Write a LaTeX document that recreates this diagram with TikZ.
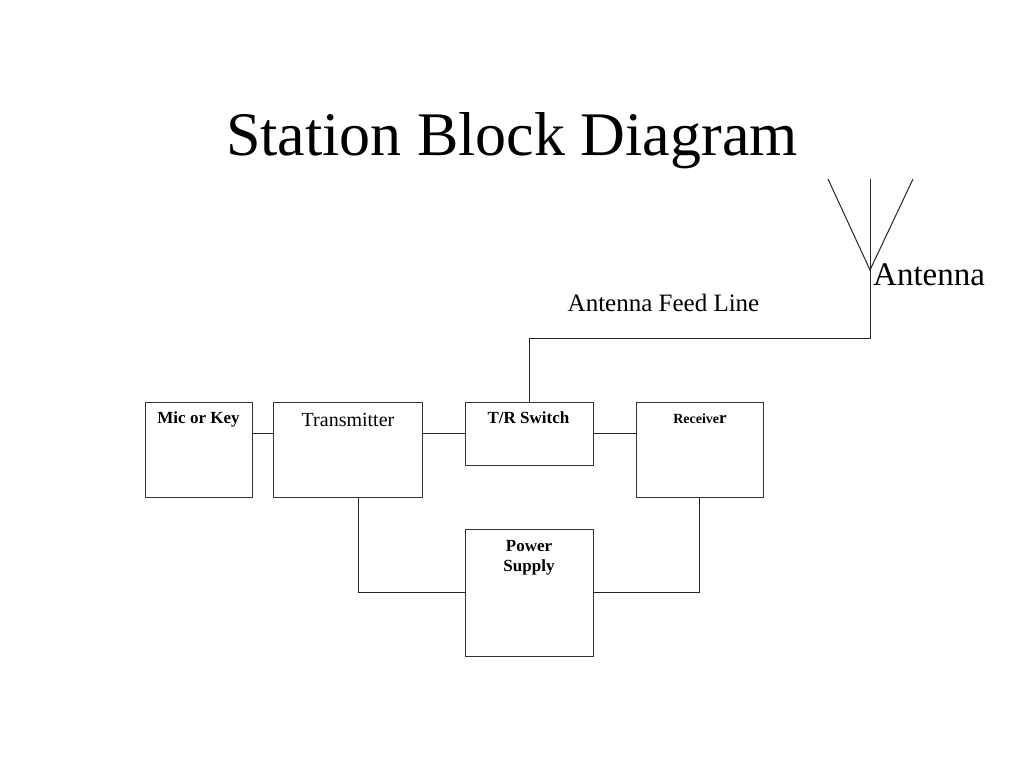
\documentclass[tikz,border=0pt]{standalone}
\usepackage{fontspec}
\setmainfont{Liberation Serif}
\begin{document}
\begin{tikzpicture}[x=1pt,y=-1pt,
  box/.style={draw=black!80, line width=1pt, fill=white, inner sep=0pt},
  wire/.style={draw=black!85, line width=1pt},
  lbl/.style={inner sep=0pt, anchor=base, font=\bfseries\fontsize{17}{20}\selectfont}]
\useasboundingbox[fill=white] (0,0) rectangle (1024,768);
% title
\node[inner sep=0pt, anchor=base, font=\fontsize{62}{70}\selectfont] (title) at (512,155) {Station Block Diagram};
% boxes
\node[box, minimum width=107pt, minimum height=95pt] (mic) at (198.5,449.5) {};
\node[box, minimum width=149pt, minimum height=95pt] (tx) at (347.5,449.5) {};
\node[box, minimum width=128pt, minimum height=63pt] (tr) at (529,433.5) {};
\node[box, minimum width=127pt, minimum height=95pt] (rx) at (699.5,449.5) {};
\node[box, minimum width=128pt, minimum height=127pt] (ps) at (529,592.5) {};
% labels
\node[lbl] (micl) at (198.5,423) {Mic or Key};
\node[inner sep=0pt, anchor=base, font=\fontsize{20}{24}\selectfont] (txl) at (348,426.5) {Transmitter};
\node[lbl] (trl) at (528.5,423) {T/R Switch};
\node[lbl] (rxl) at (700,423) {{\fontsize{14}{17}\selectfont Receive}r};
\node[lbl] (psl1) at (529,551.5) {Power};
\node[lbl] (psl2) at (529,571.5) {Supply};
% connectors
\draw[wire] (mic.east |- tr.west) -- (tx.west |- tr.west);
\draw[wire] (tx.east |- tr.west) -- (tr.west);
\draw[wire] (tr.east) -- (rx.west |- tr.east);
\draw[wire] ([xshift=10.5pt]tx.south) |- (ps.west);
\draw[wire] (rx.south) |- (ps.east);
% feed line and antenna
\coordinate (bend) at (870,338);
\coordinate (feed) at (870,270);
\coordinate (mast) at (870,179);
\coordinate (vl) at (828,179);
\coordinate (vr) at (913,179);
\draw[wire] (tr.north) |- (bend) -- (feed) -- (mast);
\draw[wire] (vl) -- (feed) -- (vr);
\node[inner sep=0pt, anchor=base west, font=\fontsize{33}{38}\selectfont] (antl) at (873,285) {Antenna};
\node[inner sep=0pt, anchor=base, font=\fontsize{25}{30}\selectfont] (feedl) at (663.5,311.5) {Antenna Feed Line};
\end{tikzpicture}
\end{document}
